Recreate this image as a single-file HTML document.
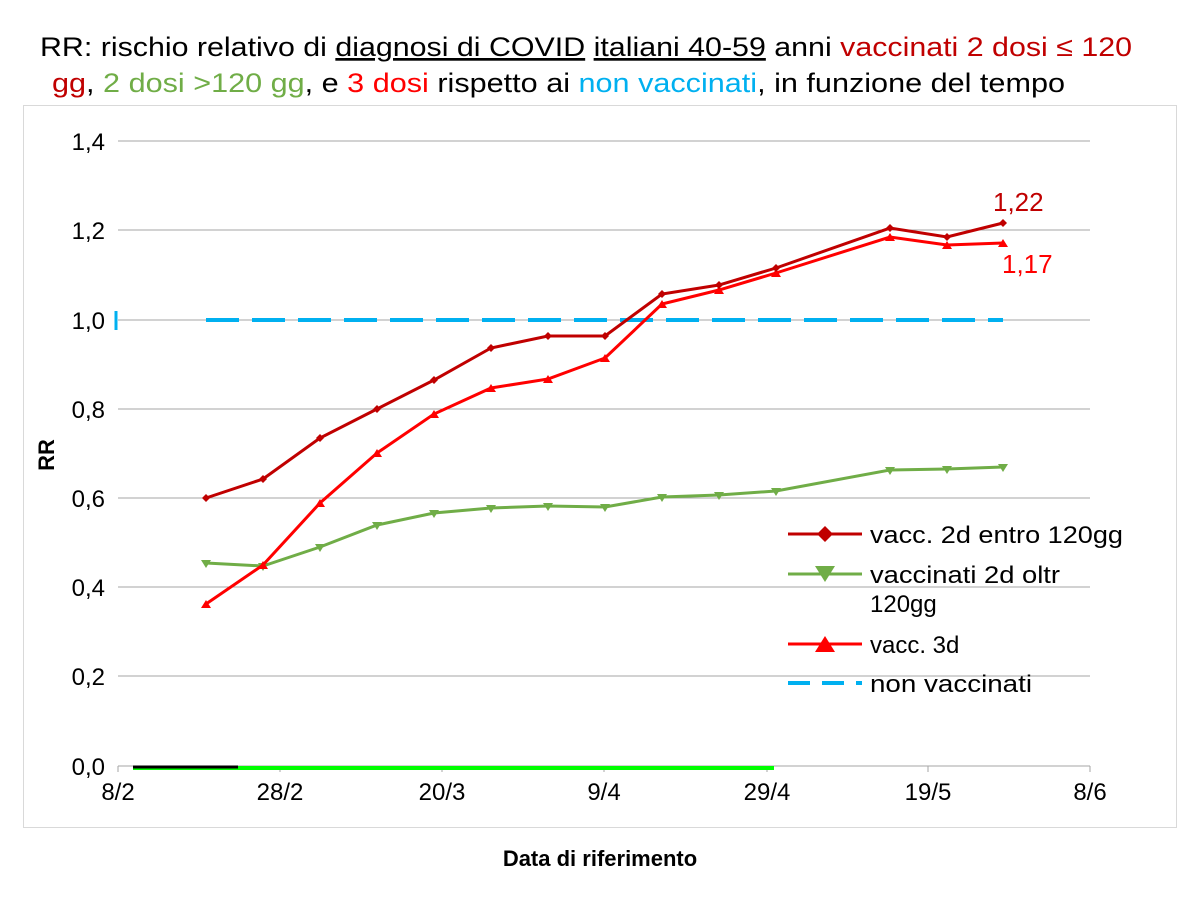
<!DOCTYPE html>
<html><head><meta charset="utf-8"><style>
body{margin:0;background:#fff;}
svg text{font-family:"Liberation Sans","DejaVu Sans",sans-serif;}
</style></head><body>
<svg width="1200" height="900" xmlns="http://www.w3.org/2000/svg">
<rect width="1200" height="900" fill="#fff"/>
<text x="40" y="56" font-size="27" fill="#000" textLength="1092" lengthAdjust="spacingAndGlyphs">RR: rischio relativo di <tspan text-decoration="underline">diagnosi di COVID</tspan> <tspan text-decoration="underline">italiani 40-59</tspan> anni <tspan fill="#c00000">vaccinati 2 dosi ≤ 120</tspan></text>
<text x="52" y="92" font-size="27" fill="#000" textLength="1013" lengthAdjust="spacingAndGlyphs"><tspan fill="#c00000">gg</tspan>, <tspan fill="#70ad47">2 dosi &gt;120 gg</tspan>,  e <tspan fill="#ff0000">3 dosi</tspan> rispetto ai <tspan fill="#00b0f0">non vaccinati</tspan>, in funzione del tempo</text>
<rect x="23.5" y="105.5" width="1153" height="722" fill="none" stroke="#d9d9d9"/>
<g stroke="#a6a6a6" stroke-width="1">
<line x1="118" y1="141" x2="1090" y2="141"/><line x1="118" y1="230" x2="1090" y2="230"/>
<line x1="118" y1="320" x2="1090" y2="320"/><line x1="118" y1="409" x2="1090" y2="409"/>
<line x1="118" y1="498" x2="1090" y2="498"/><line x1="118" y1="587" x2="1090" y2="587"/>
<line x1="118" y1="676" x2="1090" y2="676"/><line x1="118" y1="766" x2="1090" y2="766"/>
<line x1="118" y1="766" x2="118" y2="772"/><line x1="280" y1="766" x2="280" y2="772"/>
<line x1="442" y1="766" x2="442" y2="772"/><line x1="604" y1="766" x2="604" y2="772"/>
<line x1="767" y1="766" x2="767" y2="772"/><line x1="928" y1="766" x2="928" y2="772"/>
<line x1="1090" y1="766" x2="1090" y2="772"/>
</g>
<g font-size="24" fill="#000" text-anchor="end">
<text x="105" y="150">1,4</text><text x="105" y="239">1,2</text><text x="105" y="329">1,0</text>
<text x="105" y="418">0,8</text><text x="105" y="507">0,6</text><text x="105" y="596">0,4</text>
<text x="105" y="685">0,2</text><text x="105" y="775">0,0</text>
</g>
<g font-size="24" fill="#000" text-anchor="middle">
<text x="118" y="800">8/2</text><text x="280" y="800">28/2</text><text x="442" y="800">20/3</text>
<text x="604" y="800">9/4</text><text x="767" y="800">29/4</text><text x="928" y="800">19/5</text>
<text x="1090" y="800">8/6</text>
</g>
<text x="600" y="866" font-size="22" font-weight="bold" text-anchor="middle">Data di riferimento</text>
<text x="54" y="455" font-size="22" font-weight="bold" text-anchor="middle" transform="rotate(-90 54 455)">RR</text>
<line x1="133" y1="768" x2="774" y2="768" stroke="#00ff00" stroke-width="4"/>
<line x1="133" y1="767" x2="238" y2="767" stroke="#000" stroke-width="3"/>
<line x1="116" y1="311" x2="116" y2="330" stroke="#00b0f0" stroke-width="3"/>
<line x1="206" y1="320" x2="1003" y2="320" stroke="#00b0f0" stroke-width="4" stroke-dasharray="33,13"/>
<polyline fill="none" stroke="#70ad47" stroke-width="3" points="206,563 263,566 320,547 377,525 434,513 491,508 548,506 605,507 662,497 719,495 776,491 890,470 947,469 1003,467"/>
<g fill="#70ad47">
<path d="M201,560h10l-5,8z M258,563h10l-5,8z M315,544h10l-5,8z M372,522h10l-5,8z M429,510h10l-5,8z M486,505h10l-5,8z M543,503h10l-5,8z M600,504h10l-5,8z M657,494h10l-5,8z M714,492h10l-5,8z M771,488h10l-5,8z M885,467h10l-5,8z M942,466h10l-5,8z M998,464h10l-5,8z"/>
</g>
<polyline fill="none" stroke="#ff0000" stroke-width="3" points="206,604 263,565 320,503 377,453 434,414 491,388 548,379 605,358 662,304 719,290 776,273 890,237 947,245 1003,243"/>
<g fill="#ff0000">
<path d="M206,600l5,8h-10z M263,561l5,8h-10z M320,499l5,8h-10z M377,449l5,8h-10z M434,410l5,8h-10z M491,384l5,8h-10z M548,375l5,8h-10z M605,354l5,8h-10z M662,300l5,8h-10z M719,286l5,8h-10z M776,269l5,8h-10z M890,233l5,8h-10z M947,241l5,8h-10z M1003,239l5,8h-10z"/>
</g>
<polyline fill="none" stroke="#c00000" stroke-width="3" points="206,498 263,479 320,438 377,409 434,380 491,348 548,336 605,336 662,294 719,285 776,268 890,228 947,237 1003,223"/>
<g fill="#c00000">
<path d="M206,494l4,4l-4,4l-4,-4z M263,475l4,4l-4,4l-4,-4z M320,434l4,4l-4,4l-4,-4z M377,405l4,4l-4,4l-4,-4z M434,376l4,4l-4,4l-4,-4z M491,344l4,4l-4,4l-4,-4z M548,332l4,4l-4,4l-4,-4z M605,332l4,4l-4,4l-4,-4z M662,290l4,4l-4,4l-4,-4z M719,281l4,4l-4,4l-4,-4z M776,264l4,4l-4,4l-4,-4z M890,224l4,4l-4,4l-4,-4z M947,233l4,4l-4,4l-4,-4z M1003,219l4,4l-4,4l-4,-4z"/>
</g>
<text x="993" y="211" font-size="26" fill="#c00000">1,22</text>
<text x="1002" y="273" font-size="26" fill="#ff0000">1,17</text>
<line x1="788" y1="534" x2="862" y2="534" stroke="#c00000" stroke-width="3"/>
<path d="M825,526l8,8l-8,8l-8,-8z" fill="#c00000"/>
<text x="870" y="543" font-size="24" textLength="253" lengthAdjust="spacingAndGlyphs">vacc. 2d entro 120gg</text>
<line x1="788" y1="574" x2="862" y2="574" stroke="#70ad47" stroke-width="3"/>
<path d="M815,566h20l-10,16z" fill="#70ad47"/>
<text x="870" y="583" font-size="24" textLength="190" lengthAdjust="spacingAndGlyphs">vaccinati 2d oltr</text>
<text x="870" y="612" font-size="24">120gg</text>
<line x1="788" y1="644" x2="862" y2="644" stroke="#ff0000" stroke-width="3"/>
<path d="M825,636l10,16h-20z" fill="#ff0000"/>
<text x="870" y="653" font-size="24">vacc. 3d</text>
<line x1="788" y1="683" x2="862" y2="683" stroke="#00b0f0" stroke-width="4" stroke-dasharray="22,12"/>
<text x="870" y="692" font-size="24" textLength="162" lengthAdjust="spacingAndGlyphs">non vaccinati</text>
</svg>
</body></html>
